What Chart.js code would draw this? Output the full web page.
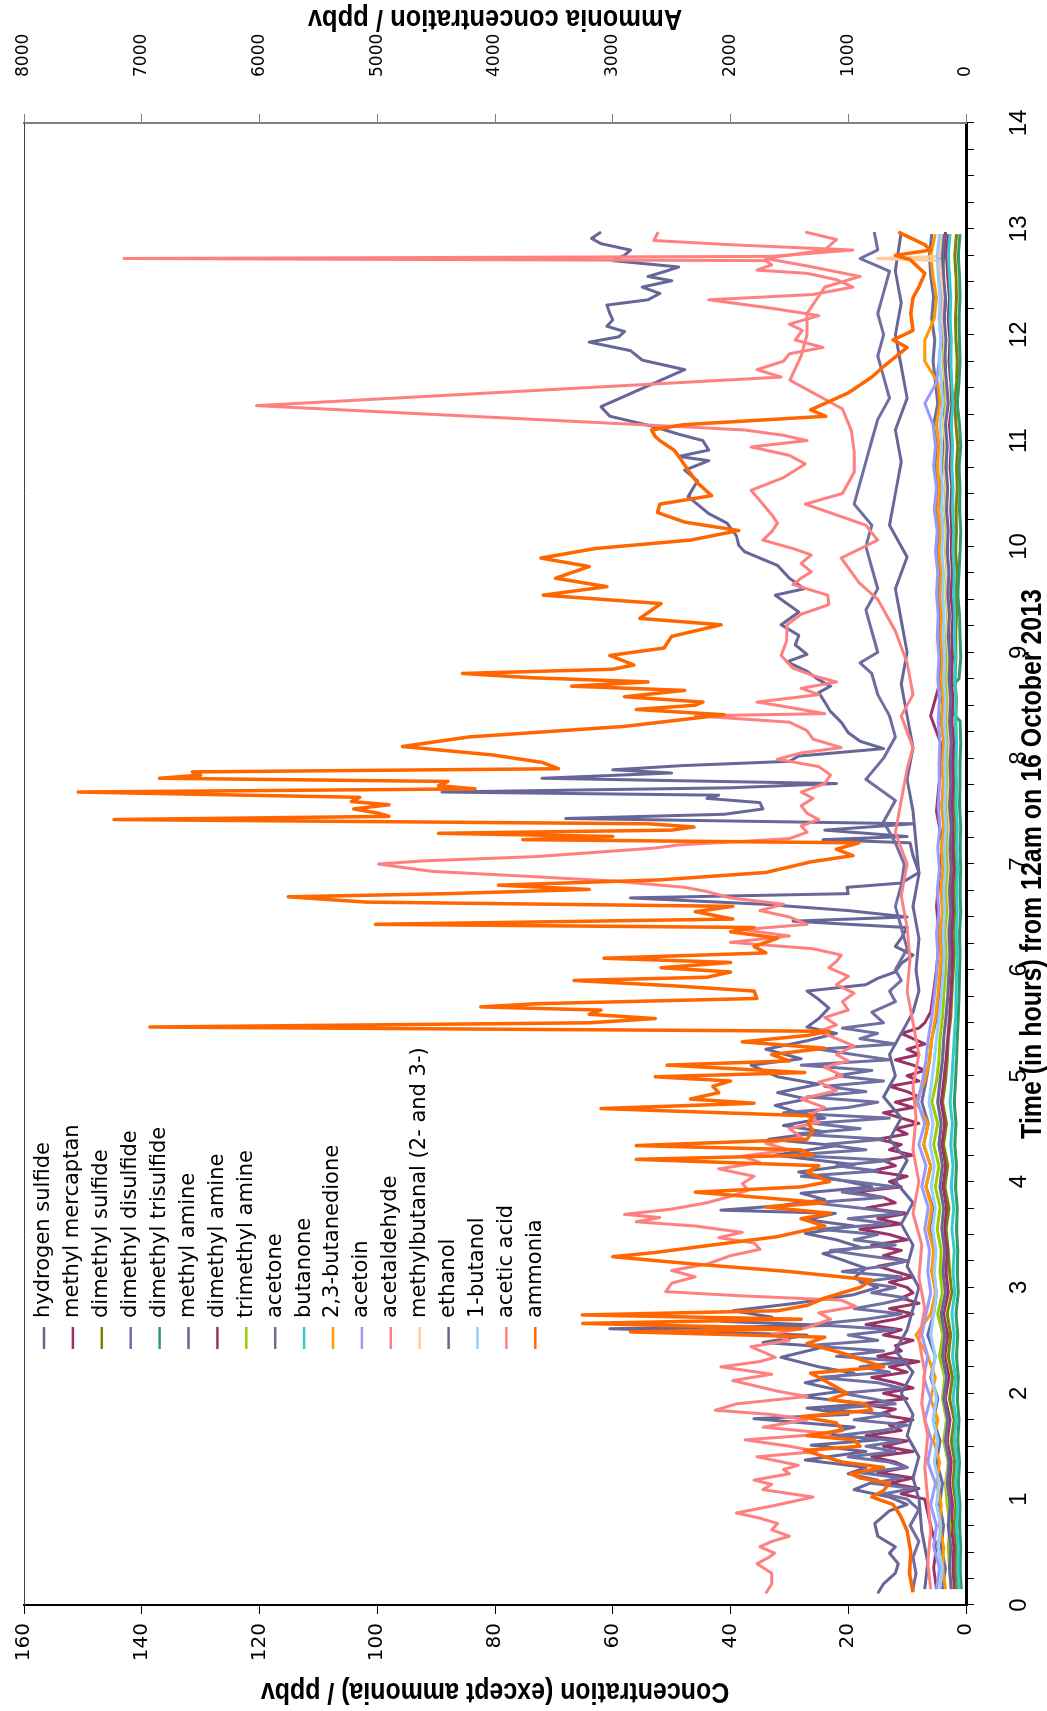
<!DOCTYPE html>
<html>
<head>
<meta charset="utf-8">
<script src="https://cdn.jsdelivr.net/npm/chart.js@4.4.0/dist/chart.umd.min.js"></script>
<style>
  html, body { margin: 0; padding: 0; background: #fff; }
  body { width: 1047px; height: 1711px; overflow: hidden; position: relative; }
  /* the chart is drawn landscape and turned a quarter turn, like the figure */
  #wrap { position: absolute; left: 0; top: 0; width: 1711px; height: 1047px;
          transform-origin: 0 0; transform: translate(0, 1711px) rotate(-90deg); }
</style>
</head>
<body>
<div id="wrap"><canvas id="chart" width="1711" height="1047"></canvas></div>
<script>
// ---- data (time in hours, concentrations in ppbv) ----
const tGrid = [
  0.15,0.35,0.55,0.75,0.95,1.15,1.35,1.55,1.75,1.95,2.15,2.35,2.55,
  2.75,2.95,3.15,3.35,3.55,3.75,3.95,4.15,4.35,4.55,4.75,4.95,5.15,
  5.35,5.55,5.75,5.95,6.15,6.35,6.55,6.75,6.95,7.15,7.35,7.55,7.75,
  7.95,8.15,8.35,8.55,8.75,8.95,9.15,9.35,9.55,9.75,9.95,10.15,10.35,
  10.55,10.75,10.95,11.15,11.35,11.55,11.75,11.95,12.15,12.35,12.55,12.75,12.95
];

const tAmmonia = [
  0.12,0.30,0.50,0.70,0.85,0.95,1.02,1.08,1.15,1.20,
  1.24,1.30,1.35,1.40,1.46,1.50,1.56,1.60,1.65,1.72,
  1.78,1.84,1.90,1.94,2.00,2.12,2.19,2.25,2.32,2.38,
  2.47,2.53,2.58,2.61,2.66,2.70,2.74,2.78,2.83,2.90,
  3.00,3.07,3.15,3.22,3.29,3.33,3.38,3.48,3.58,3.65,
  3.70,3.76,3.80,3.85,3.90,3.95,4.00,4.09,4.15,4.21,
  4.25,4.30,4.34,4.40,4.48,4.55,4.62,4.69,4.74,4.78,
  4.84,4.90,4.95,4.99,5.03,5.10,5.14,5.20,5.26,5.32,
  5.38,5.42,5.46,5.50,5.54,5.58,5.62,5.65,5.68,5.73,
  5.80,5.85,5.90,5.93,5.98,6.02,6.07,6.11,6.16,6.22,
  6.30,6.36,6.40,6.43,6.48,6.55,6.60,6.64,6.69,6.72,
  6.76,6.80,6.85,6.92,7.02,7.08,7.14,7.20,7.23,7.26,
  7.29,7.32,7.35,7.38,7.42,7.45,7.48,7.52,7.56,7.59,
  7.63,7.68,7.71,7.74,7.78,7.81,7.84,7.87,7.90,7.96,
  8.03,8.11,8.20,8.30,8.41,8.46,8.50,8.53,8.58,8.64,
  8.68,8.72,8.76,8.80,8.84,8.88,8.97,9.04,9.15,9.26,
  9.32,9.46,9.54,9.62,9.70,9.81,9.89,9.98,10.06,10.15,
  10.23,10.32,10.40,10.48,10.60,10.72,10.82,10.91,11.00,11.04,
  11.10,11.15,11.23,11.29,11.45,11.60,11.70,11.88,11.95,12.04,
  12.20,12.35,12.45,12.58,12.71,12.75,12.80,12.85,12.93,12.97
];
const ammonia = [
  450,480,470,500,560,620,800,700,650,900,
  980,700,1050,1200,1370,900,950,1350,1050,1100,
  1400,800,850,1160,1010,1200,1320,700,900,1050,
  1350,1200,2850,1400,3255,1400,3260,1600,1350,1200,
  900,800,1500,2300,3000,2640,2300,1600,1200,1400,
  1150,1700,1200,1750,2300,1400,1160,1350,1250,2800,
  1300,1400,2800,1350,1300,1340,1300,3100,1800,2340,
  2100,2150,2000,2640,1370,2540,1500,1650,1200,1900,
  1350,1160,6930,3200,2640,3200,3100,4120,3650,1775,
  1800,2500,3330,2200,2000,2590,2000,3075,1700,1800,
  1600,2000,1800,5015,1980,2300,1980,5090,5755,4400,
  3200,3970,2600,1700,1320,960,1100,910,3765,3000,
  4480,2500,2310,2700,7235,4900,4990,5200,4900,5220,
  5150,7540,4170,4480,4400,6850,6500,6570,3460,3600,
  4020,4785,4225,2900,2055,2800,2300,2235,2900,2390,
  3350,2700,3700,4275,3000,2820,3025,2565,2500,2080,
  2770,2590,3590,3050,3485,3200,3610,3150,2340,1930,
  2390,2620,2600,2160,2280,2360,2420,2480,2600,2640,
  2670,2400,1190,1320,1000,800,700,500,620,450,
  470,450,400,350,475,600,300,350,500,575
];

const tAceticAcid = [
  0.11,0.20,0.30,0.39,0.45,0.49,0.55,0.60,0.65,0.71,
  0.77,0.82,0.87,0.94,1.02,1.09,1.14,1.18,1.24,1.28,
  1.32,1.40,1.45,1.50,1.56,1.62,1.68,1.75,1.80,1.84,
  1.90,1.97,2.02,2.12,2.18,2.25,2.30,2.34,2.44,2.50,
  2.56,2.62,2.70,2.76,2.82,2.88,2.92,2.96,3.04,3.10,
  3.16,3.22,3.30,3.36,3.42,3.47,3.52,3.58,3.62,3.66,
  3.69,3.74,3.80,3.86,3.92,3.98,4.05,4.12,4.18,4.24,
  4.30,4.36,4.42,4.50,4.56,4.62,4.70,4.78,4.86,4.94,
  5.00,5.08,5.14,5.20,5.28,5.35,5.42,5.48,5.55,5.62,
  5.70,5.78,5.86,5.94,6.02,6.08,6.14,6.20,6.26,6.32,
  6.38,6.43,6.50,6.56,6.62,6.68,6.74,6.78,6.84,6.90,
  6.93,6.97,7.00,7.03,7.07,7.11,7.15,7.18,7.24,7.30,
  7.36,7.42,7.48,7.55,7.62,7.68,7.76,7.84,7.92,7.99,
  8.05,8.10,8.18,8.26,8.34,8.40,8.42,8.48,8.53,8.60,
  8.66,8.72,8.78,8.85,8.97,9.10,9.26,9.36,9.45,9.54,
  9.64,9.70,9.76,9.84,9.92,9.98,10.06,10.14,10.22,10.30,
  10.40,10.53,10.65,10.78,10.86,10.94,11.00,11.05,11.10,11.13,
  11.33,11.60,11.67,11.75,11.82,11.88,11.95,12.04,12.10,12.18,
  12.25,12.33,12.38,12.45,12.52,12.58,12.61,12.66,12.70,12.72,
  12.74,12.80,12.85,12.89,12.97
];
const aceticAcid = [
  34,33,33,35.5,33.5,32.5,35,33,30,33,
  32,35,39,32.5,26,34.5,33,36,30,31,
  28.5,35.5,25.3,30,37.5,23,34.5,27,33,42.6,
  39,27,32,39.6,33,41.6,35,32.4,36.5,30,
  33,27,23,25,18.7,21.2,38,51,50,46,
  50,44,40,35,36,42,38,46,56,52,
  58,50,44,40,37,38,36,42,35,38,
  30,34,28,30,25,27,24,28,22,25,
  21,24,20,22,19,22,25,22,24,20,
  21,19,22,20,23.3,22,21.2,26,40,30,
  38,27,30,35,31,40,44,47.8,60,80,
  90.6,96,99.8,92,73,63,53,48.8,30,27,
  28,25,27,28,26,28,24,23,25,32,
  28,21.2,26,27,30,46,24,30,35.5,25,
  28,22,26,29.4,31.4,30.5,30.4,28,23.3,23.5,
  29.4,28,26.3,28,26.3,29.4,34.5,33,32,33,
  34.5,36.5,31,27.3,30,36.5,27,31,37.6,48,
  120.5,31.4,35.5,31,30,24.3,29,27.8,30,25,
  33,43.7,26,19.2,22,27,35.5,33,34,143,
  33,19.2,40,53,52.3
];

const tHydrogenSulfide = [
  0.11,0.20,0.30,0.39,0.49,0.55,0.65,0.77,0.89,0.95,
  1.02,1.09,1.18,1.24,1.30,1.37,1.45,1.51,1.56,1.62,
  1.68,1.76,1.80,1.86,1.90,1.97,2.02,2.10,2.19,2.25,
  2.34,2.44,2.48,2.55,2.61,2.64,2.68,2.72,2.78,2.85,
  2.93,3.00,3.09,3.18,3.26,3.32,3.38,3.45,3.51,3.58,
  3.64,3.70,3.73,3.77,3.83,3.89,3.95,4.01,4.09,4.16,
  4.25,4.34,4.40,4.47,4.53,4.60,4.66,4.72,4.78,4.84,
  4.92,4.99,5.10,5.16,5.25,5.33,5.40,5.46,5.54,5.64,
  5.72,5.80,5.86,5.92,5.98,6.06,6.14,6.22,6.30,6.40,
  6.46,6.50,6.56,6.62,6.68,6.72,6.78,6.82,6.92,7.08,
  7.20,7.23,7.26,7.32,7.38,7.43,7.47,7.52,7.58,7.62,
  7.65,7.68,7.72,7.76,7.81,7.86,7.89,7.93,7.97,8.02,
  8.09,8.16,8.24,8.34,8.44,8.53,8.62,8.68,8.75,8.82,
  8.91,8.98,9.07,9.16,9.26,9.38,9.54,9.60,9.70,9.82,
  9.95,10.01,10.10,10.22,10.31,10.47,10.62,10.72,10.81,10.85,
  10.91,11.00,11.06,11.13,11.23,11.32,11.67,11.76,11.85,11.93,
  11.98,12.03,12.08,12.14,12.20,12.28,12.33,12.39,12.45,12.51,
  12.55,12.60,12.64,12.70,12.75,12.80,12.86,12.91,12.97
];
const hydrogenSulfide = [
  15,14,12,11.5,13,12,15,15.5,13,10,
  13,19,15,20,17,27.3,17,26.3,15,24,
  19,36,20,27,17,28,21,27.3,19,25,
  31.4,24,34.5,27,60.5,23,41.6,33,39.6,29,
  19.2,15,19,17,21,24.3,18,22,27.3,19,
  27,22.2,41.6,32,24,28,16,21,28.4,19,
  32.4,22,33.5,24,31,24,29,32.4,27,32,
  25,32,36.5,28,34,27,22,27,25,23.3,
  25,27,17,15,12,11,9,12,11,10,
  29.4,10,20,34.5,57,20,20.2,11,8,9,
  9.5,24.3,10,24,9,68,41,34.5,35,44,
  42,89,40,22,72,50,60,48,30,28.4,
  14,18,20,21.2,23,24,25,23,25.3,27,
  30.4,27,29,28.4,31.4,28.4,32.4,27.5,30,32,
  37.6,38.6,39,40.6,43.7,47.2,45.6,47.8,43.7,48.8,
  43.7,44.7,48.8,52.9,60.5,62,47.8,55,57,64,
  59,58,61,60,60.5,61,54,52,55,50,
  54,51,48.8,60,58,57,62,63.6,62
];

const tMethylMercaptan = [
  0.15,0.35,0.55,0.75,
  1.00,1.05,1.10,1.15,1.20,1.25,1.30,1.35,1.40,1.45,
  1.50,1.55,1.60,1.65,1.70,1.75,1.80,1.85,1.90,1.95,
  2.00,2.05,2.10,2.15,2.20,2.25,2.30,2.35,2.40,2.45,
  2.50,2.55,2.60,2.65,2.70,2.75,2.80,2.85,2.90,2.95,
  3.00,3.05,3.10,3.15,3.20,3.25,3.30,3.35,3.40,3.45,
  3.50,3.55,3.60,3.65,3.70,3.75,3.80,3.85,3.90,3.95,
  4.00,4.05,4.10,4.15,4.20,4.25,4.30,4.35,4.40,4.45,
  4.50,4.55,4.60,4.65,4.70,4.75,4.80,4.85,4.90,4.95,
  5.00,5.05,5.10,5.15,5.20,5.25,5.30,5.35,5.40,5.45,
  5.50,
  5.6,5.8,6.0,6.3,6.6,6.9,7.2,7.5,7.8,8.1,
  8.4,8.7,9.0,9.3,9.6,9.9,10.2,10.5,10.8,11.1,
  11.4,11.7,12.0,12.3,12.6,12.97
];
const methylMercaptan = [
  5,5.5,5,6,
  7,11,8,13,9,15,10,12,16,9,
  14,10,17,11,13,9,15,12,18,10,
  14,9,12,16,10,13,8,15,11,12,
  9,14,11,17,12,9,13,8,11,9,
  10,13,9,12,15,10,14,11,16,10,
  13,18,11,15,10,17,12,14,19,11,
  13,10,16,12,14,9,13,11,15,10,
  12,8,11,14,9,12,8,10,13,8,
  10,7,9,12,8,10,7,9,11,8,
  7,
  6,5.5,5,4.5,5,4.5,4,5,4.5,4,
  6,4.5,4,4.5,4,5,4,4.5,4,3.5,
  4,3.5,4,3.5,4,3.5
];

const tDimethylDisulfide = [
  0.15,0.3,0.45,0.6,0.75,0.9,
  1.00,1.05,1.10,1.15,1.20,1.25,1.30,1.35,1.40,1.45,
  1.50,1.55,1.60,1.65,1.70,1.75,1.80,1.85,1.90,1.95,
  2.00,2.05,2.10,2.15,2.20,2.25,2.30,2.35,2.40,2.45,
  2.50,2.55,2.60,2.65,2.70,2.75,2.80,2.85,2.90,2.95,
  3.00,3.05,3.10,3.15,3.20,3.25,3.30,3.35,3.40,3.45,
  3.50,3.55,3.60,3.65,3.70,3.75,3.80,3.85,3.90,3.95,
  4.00,4.05,4.10,4.15,4.20,4.25,4.30,4.35,4.40,4.45,
  4.50,4.55,4.60,4.65,4.70,4.75,4.80,4.85,4.90,4.95,
  5.00,5.05,5.10,5.15,5.20,5.25,5.30,5.35,5.40,5.45,
  5.50,
  5.6,5.7,5.8,5.9,6.0,6.2,6.4,6.6,6.8,7.0,
  7.2,7.4,7.6,7.8,8.0,8.2,8.4,8.6,8.8,8.9,
  9.0,9.2,9.4,9.6,9.8,10.0,10.2,10.4,10.6,10.8,
  11.0,11.2,11.4,11.6,11.8,12.0,12.2,12.4,12.6,12.72,
  12.8,12.97
];
const dimethylDisulfide = [
  9,8.5,9,8,9.5,8,
  10,14,9,16,11,18,10,13,20,12,
  17,11,22,14,10,19,13,24,12,16,
  21,11,15,25,13,18,10,22,14,27,
  15,20,12,26,17,11,19,14,10,16,
  12,18,11,21,14,10,17,23,12,19,
  15,25,13,20,11,18,26,14,21,12,
  19,28,15,22,13,30,17,24,14,29,
  18,26,13,31,20,15,27,17,24,14,
  22,16,28,13,19,25,12,18,15,21,
  14,
  16,12,13,11,12,10,11,12,11,10.5,
  12,14,12,17,14,12,13,15,16,18,
  15,16,17,15,16,17,16,19,18,17,
  16,15,13,14,15,14,15,14,13,18,
  15,15.6
];

const tMethylAmine = [
  0.15,0.4,0.7,1.0,1.2,1.4,1.6,1.8,2.0,2.2,
  2.4,2.6,2.8,3.0,3.2,3.4,3.6,3.8,4.0,4.2,
  4.4,4.6,4.8,5.0,5.2,5.4,5.6,5.8,6.0,6.3,
  6.6,6.9,7.2,7.5,7.8,8.1,8.4,8.7,9.0,9.3,
  9.6,9.9,10.2,10.5,10.8,11.1,11.4,11.7,12.0,12.3,
  12.6,12.97
];
const methylAmine = [
  7,6.5,7.5,8,9,8,10,9,11,9,
  12,10,9,8,10,9,11,9,12,10,
  13,11,14,12,13,11,9,8,8.5,8,
  9,8,8.5,9,10,9,10,11,10,11,
  12,10,13,12,11,12,10,11,12,11,
  12,11
];

const tAcetaldehyde = [
  0.15,0.4,0.7,1.0,1.3,1.6,1.9,2.2,2.5,2.8,
  3.1,3.4,3.7,4.0,4.3,4.6,4.9,5.2,5.5,5.8,
  6.1,6.4,6.7,7.0,7.3,7.6,7.9,8.1,8.4,8.6,
  8.9,9.2,9.5,9.66,9.89,10.06,10.2,10.4,10.5,10.7,
  10.9,11.1,11.3,11.57,11.8,12.0,12.2,12.45,12.55,12.65,
  12.72,12.8,12.9,12.97
];
const acetaldehyde = [
  6,6.5,6,6.5,7,6.5,7.5,7,8,7,
  8,7.5,9,8,9,8.5,9,8,9,10,
  9.5,10,11,10,12,11,10,9,11,9,
  10,12,15,18.2,21.2,15,17,27.3,21,19,
  19,19.5,21,29.9,28,27,27,24,18,27,
  34,24,22,27.3
];

const tMethylbutanal = [
  0.15,0.35,0.55,0.75,0.95,1.15,1.35,1.55,1.75,1.95,2.15,2.35,2.55,
  2.75,2.95,3.15,3.35,3.55,3.75,3.95,4.15,4.35,4.55,4.75,4.95,5.15,
  5.35,5.55,5.75,5.95,6.15,6.35,6.55,6.75,6.95,7.15,7.35,7.55,7.75,
  7.95,8.15,8.35,8.55,8.75,8.95,9.15,9.35,9.55,9.75,9.95,10.15,10.35,
  10.55,10.75,10.95,11.15,11.35,11.55,11.75,11.95,12.15,12.35,12.55,
  12.70,12.72,12.74,12.95
];
const methylbutanal = [
  2.5,2.8,2.6,3.0,2.8,3.3,3.0,3.5,3.2,3.8,3.4,4.0,3.6,
  4.2,3.6,3.9,3.7,4.1,3.8,4.4,4.0,4.6,4.2,4.8,4.4,4.0,
  3.8,3.5,3.2,3.0,2.9,3.1,2.8,3.0,2.7,2.9,2.7,3.0,2.8,
  2.9,2.7,3.0,2.8,3.1,2.9,3.2,3.0,3.3,3.1,3.4,3.2,3.5,
  3.3,3.6,3.4,3.7,3.2,3.5,3.8,3.6,4.0,3.8,4.2,
  4.5,15.0,4.5,4.0
];

// low-level species, read on the shared time grid
const dimethylSulfide = [
  1.5,1.8,1.6,2.0,1.7,2.2,1.9,2.5,2.0,2.8,2.3,3.0,2.6,
  3.2,2.4,2.8,3.0,3.4,2.9,3.6,3.1,3.8,3.3,4.0,3.5,3.2,
  3.0,2.6,2.4,2.2,2.0,2.1,1.9,2.0,1.8,1.9,1.7,2.0,1.8,
  1.9,1.7,1.8,1.6,1.9,1.7,1.8,1.6,1.7,1.5,1.8,1.6,1.7,
  1.5,1.6,1.4,1.7,1.9,1.6,1.5,1.7,1.8,1.6,1.7,1.9,1.6
];
const dimethylTrisulfide = [
  0.8,1.0,0.9,1.1,1.0,1.3,1.1,1.4,1.2,1.5,1.3,1.6,1.4,
  1.7,1.3,1.5,1.4,1.6,1.5,1.8,1.6,1.9,1.7,2.0,1.8,1.6,
  1.5,1.3,1.2,1.1,1.0,1.1,0.9,1.0,0.9,1.0,0.9,1.1,1.0,
  1.0,0.9,1.0,4.5,1.2,0.9,1.0,1.1,1.4,1.2,1.0,0.9,1.1,
  1.0,1.2,0.9,1.1,1.5,1.2,1.0,1.1,1.2,1.0,1.1,1.3,1.0
];
const dimethylAmine = [
  2.0,2.2,2.1,2.5,2.3,2.8,2.5,3.2,2.7,3.5,2.9,3.6,3.1,
  3.8,3.0,3.4,3.2,3.7,3.3,3.9,3.5,4.1,3.6,4.2,3.8,3.4,
  3.1,2.8,2.6,2.4,2.3,2.5,2.2,2.4,2.1,2.3,2.2,2.4,2.2,
  2.3,2.1,2.4,2.2,2.5,2.3,2.4,2.2,2.6,2.3,2.5,2.4,2.6,
  2.4,2.7,2.5,2.8,2.4,2.6,2.9,2.7,3.0,2.8,3.1,3.3,3.0
];
const trimethylAmine = [
  2.5,2.8,3.0,2.7,3.2,3.5,3.0,3.8,3.3,4.0,3.6,4.5,3.9,
  4.8,4.0,4.4,4.2,4.9,4.4,5.2,4.6,5.5,4.8,5.8,5.0,4.6,
  4.4,4.0,3.8,3.5,3.3,3.6,3.2,3.5,3.1,3.4,3.2,3.5,3.3,
  3.2,3.0,3.3,3.1,3.4,3.2,3.3,3.1,3.4,3.2,3.5,3.3,3.6,
  3.4,3.7,3.5,3.8,3.4,3.6,3.9,3.7,4.0,3.8,4.1,4.3,3.9
];
const acetone = [
  4.0,3.5,4.2,3.8,4.5,4.0,5.0,4.4,5.5,4.8,6.0,5.2,6.5,
  5.5,5.0,5.8,5.2,6.2,5.6,6.8,6.0,7.2,6.4,7.5,6.8,6.2,
  5.8,5.0,4.6,4.2,4.0,4.3,3.9,4.2,3.8,4.0,3.7,4.1,3.8,
  4.0,3.8,4.2,3.9,4.4,4.1,4.6,4.3,4.8,4.5,5.0,4.7,5.2,
  4.9,5.3,5.0,5.5,4.8,5.2,5.6,5.3,5.8,5.5,6.0,6.2,5.8
];
const butanone = [
  1.2,1.4,1.3,1.6,1.4,1.8,1.5,2.0,1.7,2.2,1.8,2.3,2.0,
  2.4,1.9,2.2,2.0,2.4,2.1,2.5,2.2,2.6,2.3,2.7,2.4,2.2,
  2.0,1.8,1.7,1.6,1.5,1.7,1.5,1.6,1.4,1.6,1.5,1.7,1.6,
  1.7,1.6,1.8,1.7,1.9,1.8,2.0,1.9,2.1,2.0,2.2,2.1,2.3,
  2.2,2.4,2.3,2.5,2.2,2.4,2.6,2.5,2.7,2.6,2.8,3.0,2.7
];
const butanedione = [
  3.5,4.0,3.8,4.5,4.2,5.0,4.5,5.5,4.8,6.0,5.2,6.5,8.5,
  6.0,5.2,5.8,5.5,6.4,5.8,6.8,6.0,7.2,6.4,8.5,7.0,6.2,
  5.8,5.2,4.8,4.5,4.2,4.5,4.0,4.3,3.9,4.2,3.8,4.1,3.9,
  4.0,3.8,4.1,3.9,4.2,4.0,4.3,4.1,4.4,4.2,4.6,4.3,4.8,
  4.5,4.9,4.6,5.0,4.4,4.8,7.0,7.0,5.4,5.0,5.6,6.0,5.2
];
const acetoin = [
  5.0,4.5,5.5,5.0,6.0,5.2,6.5,5.8,7.0,6.0,7.2,6.5,7.5,
  6.8,6.0,6.5,6.2,7.0,6.4,7.5,6.8,8.0,7.0,8.2,7.4,6.8,
  6.4,5.8,5.4,5.0,4.8,5.0,4.6,4.9,4.5,4.8,4.4,4.7,4.5,
  4.6,4.4,4.7,4.5,4.8,4.6,4.9,4.7,5.0,4.8,5.2,4.9,5.4,
  5.0,5.5,5.2,5.6,7.0,5.0,4.6,4.2,4.4,4.0,4.3,4.6,4.2
];
const ethanol = [
  2.5,2.8,2.6,3.0,2.7,3.2,2.9,3.5,3.1,3.8,3.3,4.0,3.6,
  4.2,3.5,3.9,3.6,4.1,3.8,4.4,4.0,4.6,4.2,4.8,4.4,4.0,
  3.8,3.4,3.1,2.9,2.7,2.9,2.6,2.8,2.5,2.7,2.5,2.8,2.6,
  2.7,2.5,2.8,2.6,2.9,2.7,3.0,2.8,3.1,2.9,3.2,3.0,3.3,
  3.1,3.4,3.2,3.5,3.0,3.3,3.6,3.4,3.7,3.5,3.8,4.0,3.7
];
const butanol = [
  4.5,4.0,4.8,4.3,5.0,4.6,5.4,4.8,5.6,5.0,5.8,5.2,6.0,
  5.5,5.0,5.4,5.1,5.7,5.2,5.9,5.4,6.1,5.6,6.3,5.8,5.4,
  5.0,4.6,4.2,3.9,3.7,3.9,3.6,3.8,3.5,3.7,3.4,3.7,3.5,
  3.6,3.4,3.7,3.5,3.8,3.6,3.9,3.7,4.0,3.8,4.1,3.9,4.2,
  4.0,4.3,4.1,4.4,3.9,4.2,4.5,4.3,4.6,4.4,4.7,4.9,4.5
];

const names = [
  'hydrogen sulfide', 'methyl mercaptan', 'dimethyl sulfide', 'dimethyl disulfide',
  'dimethyl trisulfide', 'methyl amine', 'dimethyl amine', 'trimethyl amine',
  'acetone', 'butanone', '2,3-butanedione', 'acetoin', 'acetaldehyde',
  'methylbutanal (2- and 3-)', 'ethanol', '1-butanol', 'acetic acid', 'ammonia'
];
const colors = [
  '#666699', '#993366', '#808000', '#6f6fa3', '#339966', '#666699', '#993366', '#99cc00',
  '#6b6b9e', '#33cccc', '#ff9900', '#9999ff', '#ff8080', '#ffcc99', '#666699', '#99ccff',
  '#ff8080', '#ff6600'
];
const series = [
  [tHydrogenSulfide, hydrogenSulfide], [tMethylMercaptan, methylMercaptan],
  [tGrid, dimethylSulfide], [tDimethylDisulfide, dimethylDisulfide],
  [tGrid, dimethylTrisulfide], [tMethylAmine, methylAmine],
  [tGrid, dimethylAmine], [tGrid, trimethylAmine], [tGrid, acetone],
  [tGrid, butanone], [tGrid, butanedione], [tGrid, acetoin],
  [tAcetaldehyde, acetaldehyde], [tMethylbutanal, methylbutanal],
  [tGrid, ethanol], [tGrid, butanol], [tAceticAcid, aceticAcid],
  [tAmmonia, ammonia]
];

const xTitle = 'Time (in hours) from 12am on 16 October 2013';
const yTitle = 'Concentration (except ammonia) / ppbv';
const y2Title = 'Ammonia concentration / ppbv';

const SANS = '"Liberation Sans", Arial, sans-serif';
const WIDE = '"DejaVu Sans", Verdana, sans-serif';

// titles are squeezed sideways to look like the narrow bold face of the figure
function narrowText(ctx, text, x, y, angle, squeeze) {
    ctx.save();
    ctx.translate(x, y);
    ctx.rotate(angle);
    ctx.scale(squeeze, 1);
    ctx.fillText(text, 0, 0);
    ctx.restore();
}

// titles, plot frame and the legend block inside the plot
const extras = {
    id: 'extras',
    afterDraw(chart) {
        const { ctx, chartArea: a } = chart;
        ctx.save();
        ctx.strokeStyle = '#404040';
        ctx.lineWidth = 1;
        ctx.beginPath();
        ctx.moveTo(a.left, a.top + 0.5);
        ctx.lineTo(a.right, a.top + 0.5);
        ctx.stroke();

        ctx.fillStyle = '#000';
        ctx.font = 'bold 29px ' + SANS;
        ctx.textAlign = 'center';
        ctx.textBaseline = 'middle';
        const cy = (a.top + a.bottom) / 2;
        narrowText(ctx, xTitle, (a.left + a.right) / 2, 1033, 0, 0.86);
        narrowText(ctx, yTitle, 20, cy, -Math.PI / 2, 0.86);
        narrowText(ctx, y2Title, 1693, cy, -Math.PI / 2, 0.88);

        ctx.font = '21px ' + WIDE;
        ctx.textAlign = 'left';
        names.forEach((name, i) => {
            const y = 44 + i * 28.9;
            ctx.strokeStyle = colors[i];
            ctx.lineWidth = 2.5;
            ctx.beginPath();
            ctx.moveTo(362, y);
            ctx.lineTo(384, y);
            ctx.stroke();
            ctx.fillText(name, 393, y);
        });
        ctx.restore();
    }
};

// keep the label padding from pushing the plot edges inward
function fixVertical(width) {
    return s => {
        s.width = width;
        s.paddingTop = 10;
        s.paddingBottom = 10;
    };
}

const datasets = series.map(([t, v], i) => ({
    label: names[i],
    data: t.map((x, k) => ({ x: x, y: v[k] })),
    borderColor: colors[i],
    borderWidth: i === 17 ? 3.5 : 3,
    pointRadius: 0,
    tension: 0,
    fill: false,
    borderJoinStyle: 'round',
    yAxisID: i === 17 ? 'y2' : 'y',
    order: 17 - i
}));

new Chart(document.getElementById('chart'), {
    type: 'line',
    data: { datasets },
    options: {
        responsive: false,
        animation: false,
        devicePixelRatio: 1,
        layout: { padding: { top: 24, left: 0, right: 0, bottom: 0 } },
        plugins: { legend: { display: false }, tooltip: { enabled: false } },
        scales: {
            x: {
                type: 'linear', position: 'bottom', min: 0, max: 14,
                afterFit: s => { s.height = 81; s.paddingLeft = 10; s.paddingRight = 10; },
                grid: { drawOnChartArea: false, tickLength: 8, color: '#000' },
                border: { color: '#000', width: 3 },
                ticks: {
                    stepSize: 0.25, autoSkip: false, maxRotation: 0, minRotation: 0,
                    padding: 31, color: '#000',
                    font: { family: SANS, size: 24 },
                    callback: v => Math.abs(v - Math.round(v)) < 1e-6 ? String(Math.round(v)) : ''
                }
            },
            y: {
                position: 'left', min: 0, max: 160,
                afterFit: fixVertical(106),
                grid: { drawOnChartArea: false, tickLength: 9, color: '#000' },
                border: { color: '#000', width: 2 },
                ticks: { stepSize: 20, padding: 9, color: '#000', font: { family: WIDE, size: 20 } }
            },
            y2: {
                position: 'right', min: 0, max: 8000,
                afterFit: fixVertical(123),
                grid: { drawOnChartArea: false, tickLength: 9, color: '#808080' },
                border: { color: '#808080', width: 2 },
                ticks: { stepSize: 1000, padding: 37, color: '#000', font: { family: WIDE, size: 17 },
                         callback: v => String(v) }
            }
        }
    },
    plugins: [extras]
});
</script>
</body>
</html>
